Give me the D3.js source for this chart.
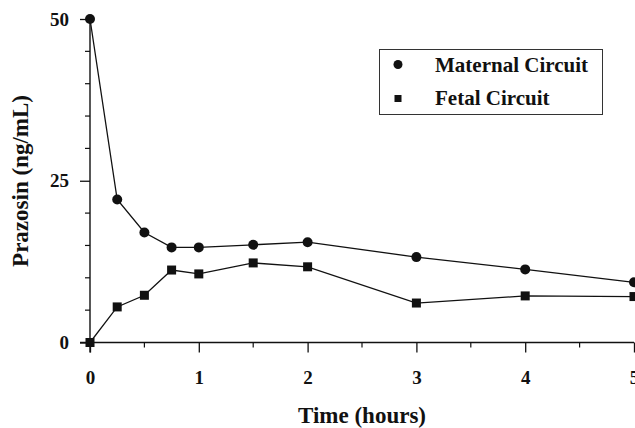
<!DOCTYPE html>
<html>
<head>
<meta charset="utf-8">
<script src="https://cdn.jsdelivr.net/npm/d3@7"></script>
<style>
  html, body { margin: 0; padding: 0; background: #fff; }
  svg { display: block; }
  text { font-family: "Liberation Serif", "Times New Roman", serif; font-weight: bold; fill: #111; }
</style>
</head>
<body>
<svg id="chart" width="635" height="428"></svg>
<script>
const times = [0, 0.25, 0.5, 0.75, 1, 1.5, 2, 3, 4, 5];
const maternal = [50, 22.1, 17.0, 14.7, 14.7, 15.1, 15.5, 13.2, 11.3, 9.3];
const fetal = [0, 5.5, 7.3, 11.2, 10.6, 12.3, 11.7, 6.1, 7.2, 7.1];
const xTickLabels = [0, 1, 2, 3, 4, 5];
const xMinorTicks = [0.5, 1.5, 2.5, 3.5, 4.5];
const yTickLabels = [0, 25, 50];
const yMinorTicks = [5, 10, 15, 20, 30, 35, 40, 45];
const seriesNames = ["Maternal Circuit", "Fetal Circuit"];

const svg = d3.select("#chart");
const x = d3.scaleLinear().domain([0, 5]).range([90, 634]);
const y = d3.scaleLinear().domain([0, 50]).range([342.5, 19]);
const ink = "#111";

// Y axis
const yAxis = svg.append("g").attr("transform", `translate(${x(0)},0)`);
yAxis.call(d3.axisLeft(y).tickValues(yTickLabels).tickSize(10).tickPadding(11).tickFormat(d3.format("d")));
yAxis.select(".domain").remove();
yAxis.append("line").attr("x1", 0).attr("x2", 0).attr("y1", y(50)).attr("y2", y(0) + 10)
  .attr("stroke", ink).attr("stroke-width", 1.4);
yAxis.selectAll(".tick line").attr("stroke", ink).attr("stroke-width", 1.3);
yAxis.selectAll(".tick text").attr("font-size", 19).style("font-family", "Liberation Serif").style("font-weight", "bold").attr("fill", ink);
yAxis.selectAll(".minor").data(yMinorTicks).enter().append("line")
  .attr("x1", -5).attr("x2", 0).attr("y1", d => y(d)).attr("y2", d => y(d))
  .attr("stroke", ink).attr("stroke-width", 1.2);

// X axis
const xAxis = svg.append("g").attr("transform", `translate(0,${y(0)})`);
xAxis.call(d3.axisBottom(x).tickValues(xTickLabels).tickSize(10).tickPadding(18).tickFormat(d3.format("d")));
xAxis.select(".domain").remove();
xAxis.append("line").attr("x1", x(0) - 10).attr("x2", x(5)).attr("y1", 0).attr("y2", 0)
  .attr("stroke", ink).attr("stroke-width", 1.4);
xAxis.selectAll(".tick line").attr("stroke", ink).attr("stroke-width", 1.3);
xAxis.selectAll(".tick text").attr("font-size", 19).style("font-family", "Liberation Serif").style("font-weight", "bold").attr("fill", ink);
xAxis.selectAll(".minor").data(xMinorTicks).enter().append("line")
  .attr("x1", d => x(d)).attr("x2", d => x(d)).attr("y1", 0).attr("y2", 5)
  .attr("stroke", ink).attr("stroke-width", 1.2);

// Axis titles
svg.append("text").attr("x", 362).attr("y", 423).attr("text-anchor", "middle")
  .attr("font-size", 23).text("Time (hours)");
svg.append("text").attr("transform", "translate(28,181) rotate(-90)").attr("text-anchor", "middle")
  .attr("font-size", 23).text("Prazosin (ng/mL)");

// Lines
const line = d3.line().x((d, i) => x(times[i])).y(d => y(d));
svg.append("path").datum(maternal).attr("d", line).attr("fill", "none").attr("stroke", ink).attr("stroke-width", 1.3);
svg.append("path").datum(fetal).attr("d", line).attr("fill", "none").attr("stroke", ink).attr("stroke-width", 1.3);

// Markers
svg.selectAll(".mat").data(maternal).enter().append("circle")
  .attr("cx", (d, i) => x(times[i])).attr("cy", d => y(d)).attr("r", 5).attr("fill", ink);
const sq = 9;
svg.selectAll(".fet").data(fetal).enter().append("rect")
  .attr("x", (d, i) => x(times[i]) - sq / 2).attr("y", d => y(d) - sq / 2)
  .attr("width", sq).attr("height", sq).attr("fill", ink);

// Legend
const lg = svg.append("g");
lg.append("rect").attr("x", 379.5).attr("y", 49.5).attr("width", 223).attr("height", 65)
  .attr("fill", "#fff").attr("stroke", "#333").attr("stroke-width", 1);
lg.append("circle").attr("cx", 398).attr("cy", 64.5).attr("r", 4.5).attr("fill", ink);
lg.append("rect").attr("x", 394.5).attr("y", 95).attr("width", 7).attr("height", 7).attr("fill", ink);
lg.append("text").attr("x", 435).attr("y", 71.5).attr("font-size", 21).text(seriesNames[0]);
lg.append("text").attr("x", 435).attr("y", 105).attr("font-size", 21).text(seriesNames[1]);
</script>
</body>
</html>
